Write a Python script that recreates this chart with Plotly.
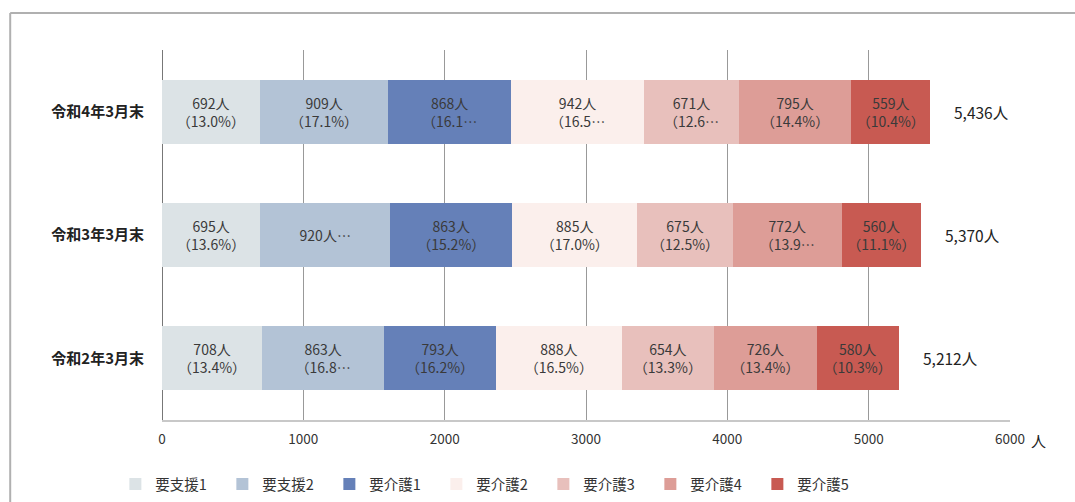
import plotly.graph_objects as go

categories = ["令和2年3月末", "令和3年3月末", "令和4年3月末"]
series_names = ["要支援1", "要支援2", "要介護1", "要介護2", "要介護3", "要介護4", "要介護5"]
# values per series, order matches categories (R2, R3, R4)
values = {
    "要支援1": [708, 695, 692],
    "要支援2": [863, 920, 909],
    "要介護1": [793, 863, 868],
    "要介護2": [888, 885, 942],
    "要介護3": [654, 675, 671],
    "要介護4": [726, 772, 795],
    "要介護5": [580, 560, 559],
}
# percentage labels as printed (some truncated in the original)
pct_labels = {
    "要支援1": ["（13.4%）", "（13.6%）", "（13.0%）"],
    "要支援2": ["（16.8…", "", "（17.1%）"],
    "要介護1": ["（16.2%）", "（15.2%）", "（16.1…"],
    "要介護2": ["（16.5%）", "（17.0%）", "（16.5…"],
    "要介護3": ["（13.3%）", "（12.5%）", "（12.6…"],
    "要介護4": ["（13.4%）", "（13.9…", "（14.4%）"],
    "要介護5": ["（10.3%）", "（11.1%）", "（10.4%）"],
}
totals = [5212, 5370, 5436]
colors = ["#dce3e6", "#b3c3d6", "#6580b8", "#fbefec", "#e8c0bc", "#dd9d97", "#c85a52"]
x_ticks = [0, 1000, 2000, 3000, 4000, 5000, 6000]

FONT = "Noto Sans CJK JP"
TXT = "#3a3a3a"
BAR_W = 0.52

fig = go.Figure()
for name, col in zip(series_names, colors):
    texts = []
    for v, p in zip(values[name], pct_labels[name]):
        if p:
            texts.append(f"{v}人<br>{p}")
        else:
            texts.append(f"{v}人…")
    fig.add_trace(go.Bar(
        y=categories, x=values[name], name=name, orientation="h",
        marker=dict(color=col, line=dict(width=0)),
        width=BAR_W,
        text=texts, textposition="inside", insidetextanchor="middle",
        textangle=0, textfont=dict(family=FONT, size=14, color=TXT),
        hoverinfo="skip",
    ))

# connector lines between adjacent bars
n = len(categories)
for i in range(n - 1):
    cum_lo, cum_hi = 0, 0
    for name in series_names:
        cum_lo += values[name][i]
        cum_hi += values[name][i + 1]
        fig.add_trace(go.Scatter(
            x=[cum_lo, cum_hi], y=[i + BAR_W / 2, i + 1 - BAR_W / 2],
            mode="lines", line=dict(color="#555555", width=1.2),
            showlegend=False, hoverinfo="skip",
        ))

# totals to the right of each bar
for i, t in enumerate(totals):
    fig.add_annotation(x=t, y=i, text=f"{t:,}人", showarrow=False,
                       xanchor="left", xshift=22,
                       font=dict(family=FONT, size=15.5, color="#222222"))

# unit label after the axis
fig.add_annotation(xref="paper", yref="paper", x=1.022, y=-0.055, text="人",
                   showarrow=False, xanchor="left", yanchor="middle",
                   font=dict(family=FONT, size=15, color="#222222"))

# outer frame (top and left edges)
fig.add_shape(type="line", xref="paper", yref="paper",
              x0=-0.179, x1=1.08, y0=1.1, y1=1.1,
              line=dict(color="#b0b0b0", width=2))
fig.add_shape(type="line", xref="paper", yref="paper",
              x0=-0.179, x1=-0.179, y0=1.1, y1=-0.3,
              line=dict(color="#b0b0b0", width=2))

fig.update_layout(
    width=1075, height=502,
    margin=dict(l=162, r=65, t=50, b=82, autoexpand=False),
    barmode="stack",
    plot_bgcolor="white", paper_bgcolor="white",
    font=dict(family=FONT, color=TXT),
    uniformtext=dict(minsize=14, mode="show"),
    xaxis=dict(range=[0, 6000], tickvals=x_ticks, ticktext=[str(v) for v in x_ticks],
               showgrid=True, gridcolor="#999999", gridwidth=1,
               zeroline=True, zerolinecolor="#777777", zerolinewidth=1,
               showline=True, linecolor="#c8c8c8", linewidth=1.5,
               tickfont=dict(family=FONT, size=13.5, color="#333333"),
               ticklabelstandoff=6,
               ticks="", fixedrange=True),
    yaxis=dict(categoryorder="array", categoryarray=categories,
               range=[-0.5, 2.5], showgrid=False, zeroline=False, showline=False,
               ticks="outside", ticklen=14, tickcolor="rgba(0,0,0,0)",
               tickfont=dict(family=FONT, size=15, color="#222222", weight=600)),
    legend=dict(orientation="h", x=-0.055, y=-0.13, xanchor="left", yanchor="top",
                entrywidth=62, entrywidthmode="pixels",
                font=dict(family=FONT, size=14.5, color="#333333"),
                traceorder="normal", itemwidth=30),
    showlegend=True,
)

fig.write_html("out.html")
